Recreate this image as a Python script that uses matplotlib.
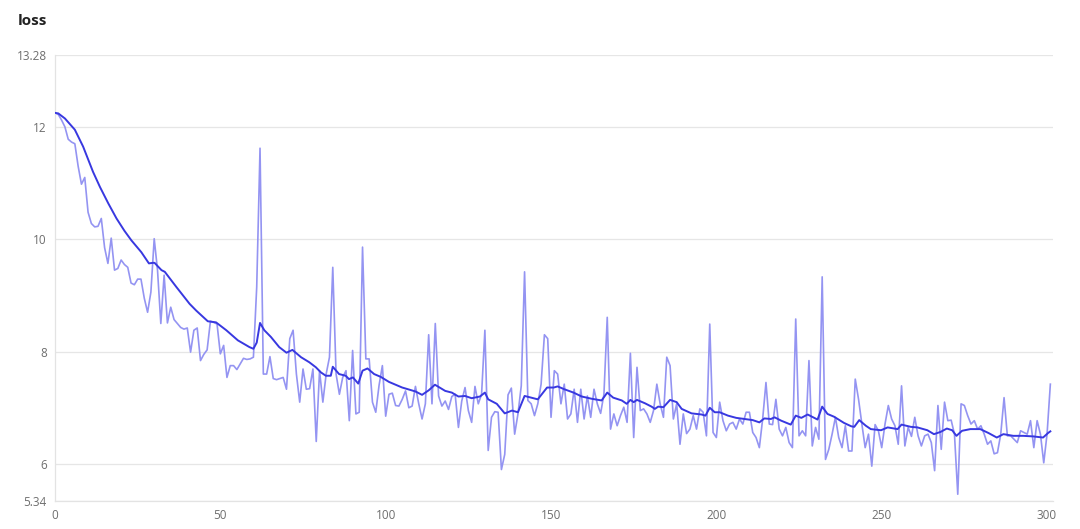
import matplotlib
matplotlib.use('Agg')
from matplotlib import pyplot as plt
import numpy as np

plt.rcParams['font.family'] = ['Open Sans', 'DejaVu Sans']

# raw loss per step
loss_raw = [
    12.25, 12.22, 12.12, 12.00, 11.78, 11.73, 11.70, 11.30, 10.98, 11.10,
    10.48, 10.28, 10.22, 10.23, 10.37, 9.85, 9.57, 10.02, 9.45, 9.48,
    9.63, 9.55, 9.50, 9.22, 9.19, 9.29, 9.29, 8.95, 8.70, 9.06,
    10.01, 9.45, 8.50, 9.36, 8.51, 8.79, 8.57, 8.50, 8.43, 8.40,
    8.42, 7.99, 8.38, 8.42, 7.84, 7.95, 8.03, 8.54, 8.52, 8.49,
    7.96, 8.11, 7.54, 7.75, 7.75, 7.68, 7.78, 7.88, 7.86, 7.87,
    7.90, 9.15, 11.62, 7.60, 7.60, 7.91, 7.52, 7.50, 7.52, 7.54,
    7.33, 8.23, 8.38, 7.60, 7.10, 7.69, 7.33, 7.34, 7.69, 6.40,
    7.66, 7.10, 7.60, 7.90, 9.50, 7.60, 7.24, 7.54, 7.66, 6.77,
    8.02, 6.89, 6.92, 9.86, 7.87, 7.87, 7.10, 6.92, 7.40, 7.75,
    6.85, 7.24, 7.26, 7.04, 7.03, 7.15, 7.30, 7.00, 7.03, 7.38,
    7.07, 6.80, 7.07, 8.30, 7.07, 8.50, 7.21, 7.03, 7.12, 6.97,
    7.20, 7.24, 6.65, 7.12, 7.36, 6.95, 6.74, 7.38, 7.07, 7.24,
    8.38, 6.24, 6.83, 6.93, 6.92, 5.90, 6.17, 7.23, 7.35, 6.53,
    6.89, 7.39, 9.42, 7.13, 7.07, 6.86, 7.07, 7.42, 8.30, 8.23,
    6.83, 7.66, 7.60, 7.07, 7.42, 6.80, 6.89, 7.33, 6.74, 7.33,
    6.80, 7.21, 6.83, 7.33, 7.07, 6.90, 7.24, 8.61, 6.62, 6.89,
    6.68, 6.86, 7.01, 6.74, 7.97, 6.47, 7.72, 6.95, 6.98, 6.89,
    6.74, 6.95, 7.42, 7.07, 6.83, 7.90, 7.75, 6.80, 7.07, 6.35,
    6.89, 6.54, 6.62, 6.86, 6.62, 6.98, 6.92, 6.50, 8.49, 6.56,
    6.47, 7.10, 6.77, 6.59, 6.71, 6.74, 6.62, 6.80, 6.71, 6.92,
    6.92, 6.56, 6.47, 6.29, 6.80, 7.45, 6.71, 6.70, 7.15, 6.62,
    6.50, 6.65, 6.38, 6.29, 8.58, 6.50, 6.59, 6.50, 7.84, 6.32,
    6.65, 6.44, 9.33, 6.08, 6.26, 6.53, 6.83, 6.47, 6.29, 6.68,
    6.23, 6.23, 7.51, 7.15, 6.71, 6.29, 6.53, 5.96, 6.70, 6.59,
    6.29, 6.71, 7.04, 6.80, 6.68, 6.35, 7.39, 6.32, 6.65, 6.49,
    6.83, 6.50, 6.32, 6.50, 6.53, 6.38, 5.88, 7.04, 6.26, 7.10,
    6.77, 6.78, 6.53, 5.46, 7.07, 7.04, 6.86, 6.71, 6.77, 6.62,
    6.68, 6.53, 6.35, 6.41, 6.18, 6.20, 6.53, 7.18, 6.50, 6.50,
    6.44, 6.38, 6.59, 6.56, 6.53, 6.77, 6.29, 6.77, 6.53, 6.02,
    6.53, 7.42,
]
steps_raw = list(range(len(loss_raw)))

# smoothed curve, read at the steps where it bends
steps_smooth = [
    0, 1, 3, 6, 8.5, 11.5, 13.6, 16.1, 18.6, 21, 23.1, 26.1, 28.4, 29.6, 30.1,
    32.2, 33.2, 36.7, 40.7, 42.7, 46.2, 48.7, 51.8, 55.3, 58.8, 60, 61, 62,
    63.3, 65.3, 67.8, 70, 71.8, 74.4, 76.9, 78.9, 80.4, 81.9, 83.4, 84, 85.9,
    87.9, 88.9, 90.1, 91.7, 93, 94.5, 96.5, 98.5, 101, 105, 109, 111, 113,
    114.9, 118, 120, 122, 124, 126, 128.5, 130, 131, 133.6, 136, 138.2, 140,
    142, 144, 146, 148.8, 150.8, 152, 154, 156.8, 159.3, 162.3, 165.3, 167,
    168.8, 171.4, 172.9, 174, 175, 176, 178.4, 180.4, 181.4, 182.4, 184, 186,
    188, 189.5, 192.5, 195.5, 196.7, 198, 199.5, 201, 203.5, 206, 208.5, 211,
    213, 214.5, 216.5, 217.6, 219.6, 222.5, 224, 225.7, 227.6, 230.6, 232,
    233.6, 235.6, 238.6, 240.8, 241.7, 243.2, 245.2, 246.7, 249.8, 251.8,
    254.8, 256, 258.8, 260.8, 263.8, 265.8, 267.8, 269.7, 271.3, 272.6, 274.3,
    276.8, 279.8, 282.3, 284.8, 286.8, 289.8, 292.8, 295.8, 298.8, 300.3, 301,
]
loss_smooth = [
    12.25, 12.24, 12.15, 11.95, 11.65, 11.20, 10.93, 10.64, 10.37, 10.15, 9.98,
    9.77, 9.57, 9.58, 9.58, 9.45, 9.42, 9.15, 8.85, 8.73, 8.54, 8.52, 8.38,
    8.20, 8.08, 8.05, 8.16, 8.51, 8.38, 8.26, 8.08, 7.98, 8.03, 7.90, 7.81,
    7.72, 7.63, 7.57, 7.57, 7.73, 7.60, 7.57, 7.51, 7.54, 7.43, 7.66, 7.70,
    7.60, 7.55, 7.46, 7.36, 7.29, 7.23, 7.31, 7.41, 7.30, 7.27, 7.20, 7.21,
    7.17, 7.20, 7.27, 7.15, 7.07, 6.90, 6.95, 6.92, 7.21, 7.18, 7.15, 7.36,
    7.36, 7.38, 7.33, 7.27, 7.20, 7.16, 7.13, 7.27, 7.18, 7.13, 7.07, 7.14,
    7.10, 7.14, 7.08, 7.02, 6.98, 7.02, 7.01, 7.14, 7.10, 6.98, 6.90, 6.88,
    6.86, 7.00, 6.92, 6.92, 6.86, 6.82, 6.80, 6.78, 6.74, 6.81, 6.80, 6.83,
    6.77, 6.70, 6.86, 6.82, 6.88, 6.79, 7.02, 6.89, 6.84, 6.73, 6.67, 6.66,
    6.78, 6.68, 6.62, 6.60, 6.65, 6.62, 6.70, 6.66, 6.65, 6.60, 6.53, 6.57,
    6.63, 6.60, 6.50, 6.59, 6.62, 6.62, 6.55, 6.47, 6.53, 6.50, 6.50, 6.49,
    6.47, 6.55, 6.58,
]

y_ticks = [5.34, 6, 8, 10, 12, 13.28]
y_tick_labels = ['5.34', '6', '8', '10', '12', '13.28']
x_ticks = [0, 50, 100, 150, 200, 250, 300]

fig = plt.figure(figsize=(10.8, 5.29), dpi=100)
ax = fig.add_axes([55 / 1080, 1 - 501 / 529, (1053 - 55) / 1080, (501 - 55) / 529])

ax.plot(steps_raw, loss_raw, color='#9494f2', linewidth=1.2, zorder=2)
ax.plot(steps_smooth, loss_smooth, color='#3838e0', linewidth=1.4, zorder=3)

ax.set_xlim(0, 301.8)
ax.set_ylim(5.34, 13.28)
ax.set_yticks(y_ticks)
ax.set_yticklabels(y_tick_labels)
ax.set_xticks(x_ticks)
ax.tick_params(length=0, labelsize=8.5, colors='#6e6e6e', pad=6)

ax.grid(axis='y', color='#e6e6e6', linewidth=0.9)
ax.set_axisbelow(True)
for side in ['top', 'right']:
    ax.spines[side].set_visible(False)
for side in ['left', 'bottom']:
    ax.spines[side].set_color('#e3e3e3')
    ax.spines[side].set_linewidth(0.9)

fig.text(18 / 1080, 1 - 25 / 529, 'loss', fontsize=11, fontweight='bold',
         color='#222222', va='baseline', ha='left')

fig.savefig('out.png', dpi=100)
